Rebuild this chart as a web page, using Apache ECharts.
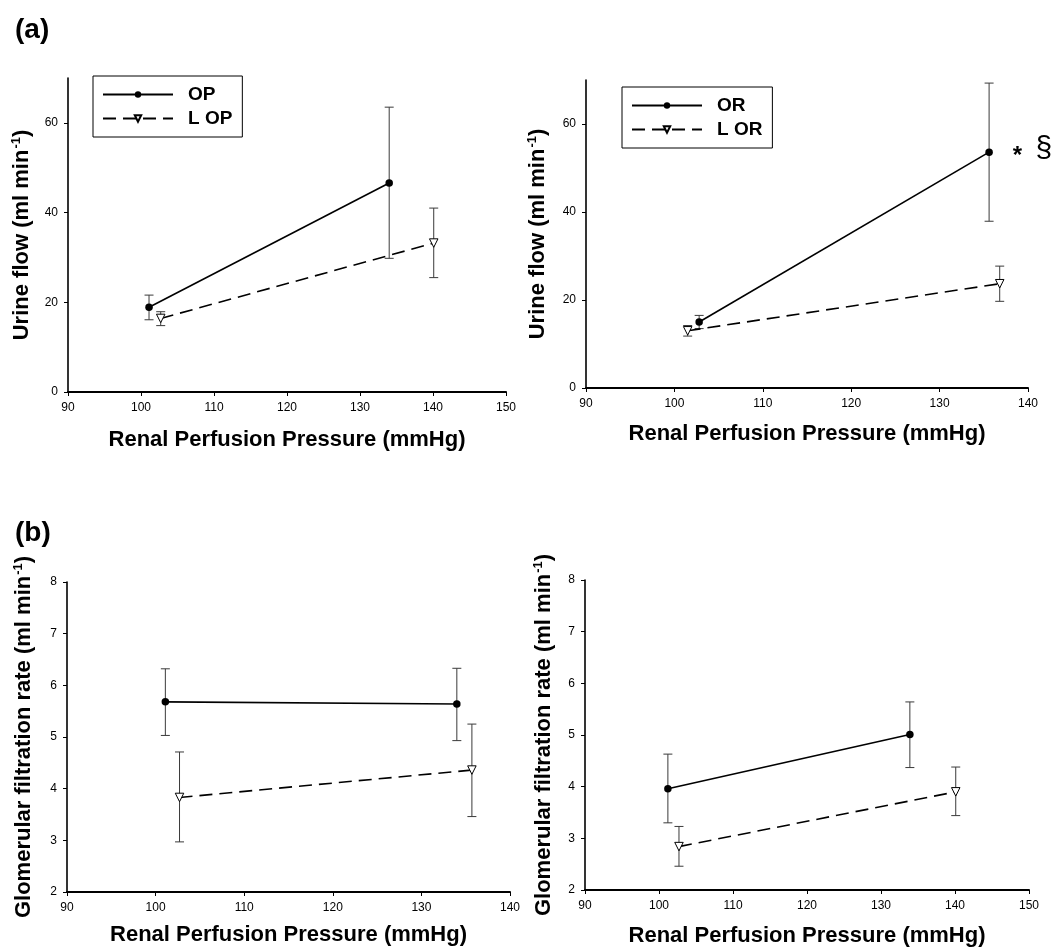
<!DOCTYPE html>
<html>
<head>
<meta charset="utf-8">
<title>Renal perfusion pressure</title>
<script src="https://cdn.jsdelivr.net/npm/echarts@6/dist/echarts.min.js"></script>
<style>
  html, body { margin: 0; padding: 0; background: #fff; }
  #chart { width: 1057px; height: 950px; }
</style>
</head>
<body>
<div id="chart"></div>
<script>
// (a) urine flow, ml/min — x is renal perfusion pressure (mmHg)
const ufOpX = [101.1, 134.0]
const ufOpY = [18.9, 46.6]
const ufOpLo = [16.1, 29.8]
const ufOpHi = [21.6, 63.5]

const ufLopX = [102.7, 140.1]
const ufLopY = [16.4, 33.2]
const ufLopLo = [14.8, 25.5]
const ufLopHi = [17.9, 41.0]

const ufOrX = [102.8, 135.6]
const ufOrY = [15.0, 53.6]
const ufOrLo = [13.5, 37.9]
const ufOrHi = [16.5, 69.3]
const ufOrMarks = ['', '* §']

const ufLorX = [101.5, 136.8]
const ufLorY = [13.0, 23.7]
const ufLorLo = [11.8, 19.7]
const ufLorHi = [14.2, 27.7]

// (b) glomerular filtration rate, ml/min
const gfrOpX = [101.1, 134.0]
const gfrOpY = [5.68, 5.64]
const gfrOpLo = [5.03, 4.93]
const gfrOpHi = [6.32, 6.33]

const gfrLopX = [102.7, 135.7]
const gfrLopY = [3.83, 4.36]
const gfrLopLo = [2.97, 3.46]
const gfrLopHi = [4.71, 5.25]

const gfrOrX = [101.2, 133.9]
const gfrOrY = [3.96, 5.01]
const gfrOrLo = [3.30, 4.37]
const gfrOrHi = [4.63, 5.64]

const gfrLorX = [102.7, 140.1]
const gfrLorY = [2.84, 3.90]
const gfrLorLo = [2.46, 3.44]
const gfrLorHi = [3.23, 4.38]

const ufTicks = [0, 20, 40, 60]
const gfrTicks = [2, 3, 4, 5, 6, 7, 8]
const legendTop = ['OP', 'L OP']
const legendTopRight = ['OR', 'L OR']

const FONT = '"Liberation Sans", Arial, Helvetica, sans-serif'
const xName = 'Renal Perfusion Pressure (mmHg)'
const ufName = 'Urine flow (ml min{sup|-1})'
const gfrName = 'Glomerular filtration rate (ml min{sup|-1})'

const titleStyle = {
  fontFamily: FONT,
  fontSize: 22,
  fontWeight: 'bold',
  color: '#000',
  rich: {
    sup: { fontFamily: FONT, fontSize: 13, fontWeight: 'bold', color: '#000', verticalAlign: 'top', padding: [0, 0, 10, 1] }
  }
}

function xAxis(gi, min, max, gap) {
  return {
    gridIndex: gi,
    type: 'value',
    min, max, interval: 10,
    name: xName,
    nameLocation: 'middle',
    nameGap: gap,
    nameTextStyle: titleStyle,
    axisLine: { lineStyle: { color: '#000', width: 2 } },
    axisTick: { length: 4, lineStyle: { color: '#000', width: 1 } },
    axisLabel: { color: '#000', fontFamily: FONT, fontSize: 12, margin: 10 },
    splitLine: { show: false }
  }
}

function yAxis(gi, min, max, ticks, name, gap) {
  return {
    gridIndex: gi,
    type: 'value',
    min, max,
    name,
    nameLocation: 'middle',
    nameGap: gap,
    nameTextStyle: titleStyle,
    axisLine: { lineStyle: { color: '#000', width: 1.6 } },
    axisTick: { length: 4, customValues: ticks, lineStyle: { color: '#000', width: 1 } },
    axisLabel: { customValues: ticks, color: '#000', fontFamily: FONT, fontSize: 12, margin: 10 },
    splitLine: { show: false }
  }
}

function solid(gi, name, xs, ys, marks) {
  return {
    name,
    type: 'line',
    xAxisIndex: gi,
    yAxisIndex: gi,
    symbol: 'circle',
    symbolSize: 7.5,
    z: 3,
    data: xs.map((x, i) => {
      const item = { value: [x, ys[i]] }
      if (marks && marks[i]) {
        const parts = marks[i].split(' ')
        item.label = {
          show: true,
          position: 'right',
          distance: 20,
          formatter: '{s|' + parts[0] + '}    {p|' + parts[1] + '}',
          rich: {
            s: { fontFamily: FONT, fontSize: 24, fontWeight: 'bold', color: '#000', padding: [8, 0, 0, 0] },
            p: { fontFamily: FONT, fontSize: 30, color: '#000', padding: [0, 0, 6, 0] }
          }
        }
      }
      return item
    }),
    itemStyle: { color: '#000' },
    lineStyle: { color: '#000', width: 1.6 },
    emphasis: { disabled: true }
  }
}

function dashed(gi, name, xs, ys) {
  return {
    name,
    type: 'line',
    xAxisIndex: gi,
    yAxisIndex: gi,
    symbol: 'triangle',
    symbolRotate: 180,
    symbolSize: 8.5,
    z: 3,
    data: xs.map((x, i) => [x, ys[i]]),
    itemStyle: { color: '#fff', borderColor: '#000', borderWidth: 1 },
    lineStyle: { color: '#000', width: 1.6, type: [13, 7] },
    emphasis: { disabled: true }
  }
}

function errors(gi, xs, lo, hi) {
  return {
    type: 'custom',
    xAxisIndex: gi,
    yAxisIndex: gi,
    silent: true,
    z: 2,
    data: xs.map((x, i) => [x, lo[i], hi[i]]),
    renderItem(params, api) {
      const top = api.coord([api.value(0), api.value(2)])
      const bot = api.coord([api.value(0), api.value(1)])
      const w = 4.5
      const style = { stroke: '#3a3a3a', lineWidth: 1 }
      return {
        type: 'group',
        children: [
          { type: 'line', shape: { x1: top[0], y1: top[1], x2: bot[0], y2: bot[1] }, style },
          { type: 'line', shape: { x1: top[0] - w, y1: top[1], x2: top[0] + w, y2: top[1] }, style },
          { type: 'line', shape: { x1: bot[0] - w, y1: bot[1], x2: bot[0] + w, y2: bot[1] }, style }
        ]
      }
    }
  }
}

function legend(data, left, top) {
  return {
    data,
    orient: 'vertical',
    left, top,
    itemWidth: 70,
    itemHeight: 8,
    itemGap: 5,
    padding: [9, 10, 9, 9],
    borderColor: '#000',
    borderWidth: 1,
    selectedMode: false,
    textStyle: { fontFamily: FONT, fontSize: 19, fontWeight: 'bold', color: '#000', lineHeight: 18, padding: [0, 0, 0, 10] }
  }
}

const chart = echarts.init(document.getElementById('chart'))

chart.setOption({
  animation: false,
  backgroundColor: '#fff',
  title: [
    { text: '(a)', left: 10, top: 11, textStyle: { fontFamily: FONT, fontSize: 28, fontWeight: 'bold', color: '#000' } },
    { text: '(b)', left: 10, top: 514, textStyle: { fontFamily: FONT, fontSize: 28, fontWeight: 'bold', color: '#000' } }
  ],
  legend: [
    legend(legendTop, 93, 76),
    legend(legendTopRight, 622, 87)
  ],
  grid: [
    { left: 68, top: 78, right: 551, bottom: 558 },
    { left: 586, top: 80, right: 29, bottom: 562 },
    { left: 67, top: 582, right: 547, bottom: 58 },
    { left: 585, top: 580, right: 28, bottom: 60 }
  ],
  xAxis: [
    xAxis(0, 90, 150, 37),
    xAxis(1, 90, 140, 35),
    xAxis(2, 90, 140, 32),
    xAxis(3, 90, 150, 35)
  ],
  yAxis: [
    yAxis(0, 0, 70, ufTicks, ufName, 35),
    yAxis(1, 0, 70, ufTicks, ufName, 37),
    yAxis(2, 2, 8, gfrTicks, gfrName, 32),
    yAxis(3, 2, 8, gfrTicks, gfrName, 30)
  ],
  series: [
    errors(0, ufOpX, ufOpLo, ufOpHi),
    errors(0, ufLopX, ufLopLo, ufLopHi),
    solid(0, 'OP', ufOpX, ufOpY),
    dashed(0, 'L OP', ufLopX, ufLopY),

    errors(1, ufOrX, ufOrLo, ufOrHi),
    errors(1, ufLorX, ufLorLo, ufLorHi),
    solid(1, 'OR', ufOrX, ufOrY, ufOrMarks),
    dashed(1, 'L OR', ufLorX, ufLorY),

    errors(2, gfrOpX, gfrOpLo, gfrOpHi),
    errors(2, gfrLopX, gfrLopLo, gfrLopHi),
    solid(2, 'GFR OP', gfrOpX, gfrOpY),
    dashed(2, 'GFR L OP', gfrLopX, gfrLopY),

    errors(3, gfrOrX, gfrOrLo, gfrOrHi),
    errors(3, gfrLorX, gfrLorLo, gfrLorHi),
    solid(3, 'GFR OR', gfrOrX, gfrOrY),
    dashed(3, 'GFR L OR', gfrLorX, gfrLorY)
  ]
})

window.addEventListener('resize', () => chart.resize())
</script>
</body>
</html>
